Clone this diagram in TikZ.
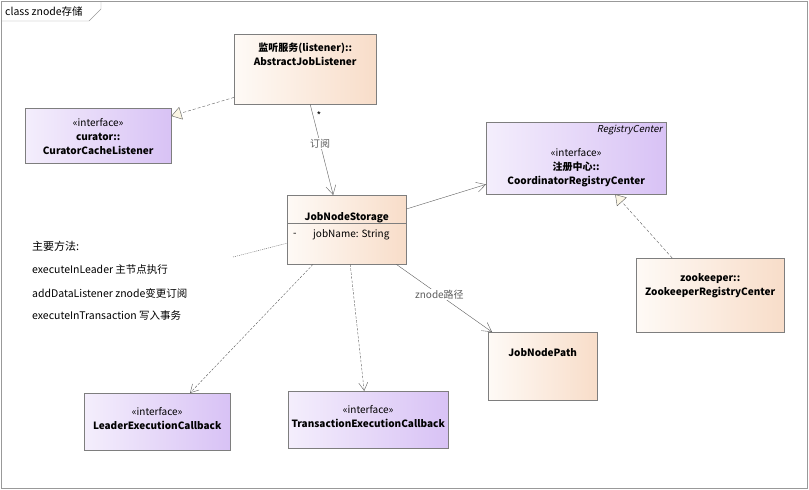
\documentclass[tikz,border=0pt]{standalone}
\usepackage{fontspec}
\setmainfont{Noto Sans CJK SC}[ItalicFont={Noto Sans CJK SC},ItalicFeatures={FakeSlant=0.2}]
\usetikzlibrary{arrows.meta,positioning,shadows}
\definecolor{peachL}{HTML}{FEFAF6}
\definecolor{peachR}{HTML}{F8DDC9}
\definecolor{lilacL}{HTML}{F4EEFC}
\definecolor{lilacR}{HTML}{D8C2F5}
\definecolor{tipfill}{HTML}{FBF6E4}
\definecolor{edge}{HTML}{5E5E5E}

\begin{document}
\begin{tikzpicture}[x=1pt,y=-1pt,font=\fontsize{10}{14}\selectfont,
    cls/.style={draw=edge!80,anchor=north west,inner sep=0pt,
      drop shadow={shadow xshift=1.2pt,shadow yshift=-1.2pt,opacity=0.25,fill=gray}},
    peach/.style={cls,left color=peachL,right color=peachR},
    lilac/.style={cls,left color=lilacL,right color=lilacR},
    ttl/.style={anchor=north,align=center,inner sep=0pt,yshift=-6pt},
    dep/.style={draw=edge,dash pattern=on 2.5pt off 1.5pt,-{Straight Barb[length=8pt,width=9pt]}},
    real/.style={draw=edge,dash pattern=on 3pt off 2pt,-{Triangle[length=10pt,width=13pt,fill=tipfill]}},
    assoc/.style={draw=edge,-{Straight Barb[length=9pt,width=10pt]}},
    memo/.style={anchor=west,inner sep=0pt,font=\fontsize{10.5}{12}\selectfont}]
  \useasboundingbox (0,0) rectangle (809,490);
  % frame and tab
  \draw[gray!80] (1,1) rectangle (807,488);
  \draw[gray!80] (1,21) -- (89,21) -- (101,9) -- (101,1);
  \node[anchor=west,inner sep=0pt,font=\fontsize{10.5}{12}\selectfont] (tab) at (5,11) {class znode存储};

  % classes
  \node[peach,minimum width=142,minimum height=70] (ajl) at (234,34) {};
  \node[ttl,yshift=-3pt,font=\fontsize{10}{14}\selectfont\bfseries] (ajl-t) at (ajl.north) {监听服务(listener)::\\AbstractJobListener};
  \node[lilac,minimum width=146,minimum height=55] (cur) at (25,108) {};
  \node[ttl,yshift=-4pt] (cur-t) at (cur.north) {«interface»\\\textbf{curator::}\\\textbf{CuratorCacheListener}};
  \node[lilac,minimum width=180,minimum height=72] (rc) at (486,122) {};
  \node[anchor=north east,inner sep=0pt,font=\fontsize{9.5}{10}\selectfont\itshape] (rc-i) at ([xshift=-4pt,yshift=-3pt]rc.north east) {RegistryCenter};
  \node[ttl,yshift=-20pt] (rc-t) at (rc.north) {«interface»\\\textbf{注册中心::}\\\textbf{CoordinatorRegistryCenter}};
  \node[peach,minimum width=119,minimum height=69] (jns) at (287,195) {};
  \node[ttl,yshift=-11pt,font=\fontsize{10}{14}\selectfont\bfseries] (jns-t) at (jns.north) {JobNodeStorage};
  \draw[edge!80] ([yshift=-28pt]jns.north west) -- ([yshift=-28pt]jns.north east);
  \node[anchor=west,inner sep=0pt] (jns-m) at ([xshift=6pt,yshift=-40pt]jns.north west) {-};
  \node[anchor=west,inner sep=0pt] (jns-a) at ([xshift=26pt,yshift=-40pt]jns.north west) {jobName: String};
  \node[peach,minimum width=148,minimum height=74] (zk) at (636,258) {};
  \node[ttl,yshift=-9pt,font=\fontsize{10}{14}\selectfont\bfseries] (zk-t) at (zk.north) {zookeeper::\\ZookeeperRegistryCenter};
  \node[peach,minimum width=109,minimum height=68] (jnp) at (488,332) {};
  \node[ttl,yshift=-10pt,font=\fontsize{10}{14}\selectfont\bfseries] (jnp-t) at (jnp.north) {JobNodePath};
  \node[lilac,minimum width=146,minimum height=57] (lec) at (84,393) {};
  \node[ttl,yshift=-8pt] (lec-t) at (lec.north) {«interface»\\\textbf{LeaderExecutionCallback}};
  \node[lilac,minimum width=160,minimum height=57] (tec) at (288,391) {};
  \node[ttl,yshift=-8pt] (tec-t) at (tec.north) {«interface»\\\textbf{TransactionExecutionCallback}};

  % note
  \node[memo,font=\fontsize{11}{12}\selectfont] (n0) at (32,246) {主要方法:};
  \node[memo] (n1) at (32,270) {executeInLeader 主节点执行};
  \node[memo] (n2) at (32,293) {addDataListener znode变更订阅};
  \node[memo] (n3) at (32,316) {executeInTransaction 写入事务};
  \coordinate (ncon) at (233,257);
  \draw[edge,dash pattern=on 1pt off 1pt] (ncon) -- ([yshift=-13.5pt]jns.west);

  % connectors
  \draw[real] ([yshift=7pt]ajl.south west) -- ([yshift=-8pt]cur.north east);
  \draw[assoc] ([xshift=5pt]ajl.south) -- node[fill=white,inner sep=1pt,text=edge,pos=0.43] (sub) {订阅} ([xshift=-13.5pt]jns.north);
  \node[inner sep=0pt] (star) at (319,116) {*};
  \draw[assoc] ([yshift=-14pt]jns.north east) -- ([yshift=10pt]rc.south west);
  \draw[real] ([xshift=-38pt]zk.north) -- ([xshift=39pt]rc.south);
  \draw[assoc] ([xshift=-10pt]jns.south east) -- node[fill=white,inner sep=1pt,text=edge,pos=0.45] (path) {znode路径} ([xshift=4pt]jnp.north west);
  \draw[dep] ([xshift=26pt]jns.south west) -- ([xshift=106pt]lec.north west);
  \draw[dep] ([xshift=3.5pt]jns.south) -- ([xshift=-4pt]tec.north);
\end{tikzpicture}
\end{document}
